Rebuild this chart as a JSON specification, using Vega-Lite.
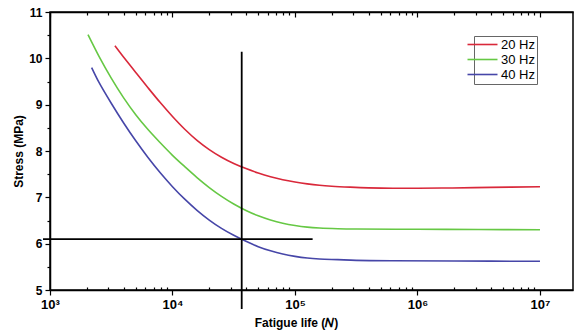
{
  "$schema": "https://vega.github.io/schema/vega-lite/v6.json",
  "autosize": "none",
  "width": 523,
  "height": 278,
  "padding": {"left": 50, "top": 12, "right": 5, "bottom": 41},
  "background": "white",
  "config": {
    "view": {"stroke": "black", "strokeWidth": 1.5},
    "font": "Liberation Sans",
    "axis": {"domainColor": "black", "domainWidth": 1.5, "tickColor": "black", "tickWidth": 1.2, "grid": false, "labelColor": "black", "titleColor": "black"}
  },
  "datasets": {
    "curves": [
      {"N": 3388, "S": 10.27, "f": "20 Hz"},
      {"N": 3981, "S": 10.03, "f": "20 Hz"},
      {"N": 5012, "S": 9.695, "f": "20 Hz"},
      {"N": 6310, "S": 9.365, "f": "20 Hz"},
      {"N": 7943, "S": 9.045, "f": "20 Hz"},
      {"N": 10000, "S": 8.745, "f": "20 Hz"},
      {"N": 12589, "S": 8.47, "f": "20 Hz"},
      {"N": 15849, "S": 8.23, "f": "20 Hz"},
      {"N": 19953, "S": 8.03, "f": "20 Hz"},
      {"N": 25119, "S": 7.865, "f": "20 Hz"},
      {"N": 31623, "S": 7.73, "f": "20 Hz"},
      {"N": 39811, "S": 7.62, "f": "20 Hz"},
      {"N": 50119, "S": 7.525, "f": "20 Hz"},
      {"N": 63096, "S": 7.445, "f": "20 Hz"},
      {"N": 79433, "S": 7.38, "f": "20 Hz"},
      {"N": 100000, "S": 7.33, "f": "20 Hz"},
      {"N": 125893, "S": 7.29, "f": "20 Hz"},
      {"N": 158489, "S": 7.26, "f": "20 Hz"},
      {"N": 199526, "S": 7.24, "f": "20 Hz"},
      {"N": 281838, "S": 7.22, "f": "20 Hz"},
      {"N": 398107, "S": 7.205, "f": "20 Hz"},
      {"N": 630957, "S": 7.195, "f": "20 Hz"},
      {"N": 1584893, "S": 7.20, "f": "20 Hz"},
      {"N": 3981072, "S": 7.215, "f": "20 Hz"},
      {"N": 10000000, "S": 7.23, "f": "20 Hz"},
      {"N": 2042, "S": 10.51, "f": "30 Hz"},
      {"N": 2512, "S": 10.042, "f": "30 Hz"},
      {"N": 3162, "S": 9.572, "f": "30 Hz"},
      {"N": 3981, "S": 9.152, "f": "30 Hz"},
      {"N": 5012, "S": 8.782, "f": "30 Hz"},
      {"N": 6310, "S": 8.462, "f": "30 Hz"},
      {"N": 7943, "S": 8.177, "f": "30 Hz"},
      {"N": 10000, "S": 7.907, "f": "30 Hz"},
      {"N": 12589, "S": 7.662, "f": "30 Hz"},
      {"N": 15849, "S": 7.427, "f": "30 Hz"},
      {"N": 19953, "S": 7.212, "f": "30 Hz"},
      {"N": 25119, "S": 7.022, "f": "30 Hz"},
      {"N": 31623, "S": 6.857, "f": "30 Hz"},
      {"N": 39811, "S": 6.717, "f": "30 Hz"},
      {"N": 50119, "S": 6.602, "f": "30 Hz"},
      {"N": 63096, "S": 6.512, "f": "30 Hz"},
      {"N": 79433, "S": 6.442, "f": "30 Hz"},
      {"N": 100000, "S": 6.392, "f": "30 Hz"},
      {"N": 125893, "S": 6.357, "f": "30 Hz"},
      {"N": 158489, "S": 6.337, "f": "30 Hz"},
      {"N": 223872, "S": 6.322, "f": "30 Hz"},
      {"N": 316228, "S": 6.315, "f": "30 Hz"},
      {"N": 1000000, "S": 6.31, "f": "30 Hz"},
      {"N": 3162278, "S": 6.305, "f": "30 Hz"},
      {"N": 10000000, "S": 6.30, "f": "30 Hz"},
      {"N": 2188, "S": 9.80, "f": "40 Hz"},
      {"N": 2512, "S": 9.48, "f": "40 Hz"},
      {"N": 3162, "S": 9.03, "f": "40 Hz"},
      {"N": 3981, "S": 8.61, "f": "40 Hz"},
      {"N": 5012, "S": 8.22, "f": "40 Hz"},
      {"N": 6310, "S": 7.86, "f": "40 Hz"},
      {"N": 7943, "S": 7.53, "f": "40 Hz"},
      {"N": 10000, "S": 7.23, "f": "40 Hz"},
      {"N": 12589, "S": 6.96, "f": "40 Hz"},
      {"N": 15849, "S": 6.72, "f": "40 Hz"},
      {"N": 19953, "S": 6.51, "f": "40 Hz"},
      {"N": 25119, "S": 6.33, "f": "40 Hz"},
      {"N": 31623, "S": 6.18, "f": "40 Hz"},
      {"N": 39811, "S": 6.05, "f": "40 Hz"},
      {"N": 50119, "S": 5.935, "f": "40 Hz"},
      {"N": 63096, "S": 5.845, "f": "40 Hz"},
      {"N": 79433, "S": 5.775, "f": "40 Hz"},
      {"N": 100000, "S": 5.725, "f": "40 Hz"},
      {"N": 125893, "S": 5.69, "f": "40 Hz"},
      {"N": 158489, "S": 5.67, "f": "40 Hz"},
      {"N": 223872, "S": 5.655, "f": "40 Hz"},
      {"N": 316228, "S": 5.64, "f": "40 Hz"},
      {"N": 630957, "S": 5.63, "f": "40 Hz"},
      {"N": 1995262, "S": 5.625, "f": "40 Hz"},
      {"N": 10000000, "S": 5.62, "f": "40 Hz"}
    ],
    "guides": [
      {"x": 36728, "x2": 36728, "y": 4.59, "y2": 10.14},
      {"x": 877, "x2": 139300, "y": 6.10, "y2": 6.10}
    ]
  },
  "layer": [
    {
      "data": {"name": "curves"},
      "mark": {"type": "line", "interpolate": "catmull-rom", "strokeWidth": 1.6},
      "encoding": {
        "x": {
          "field": "N", "type": "quantitative",
          "scale": {"type": "log", "domain": [1000, 18600000], "nice": false},
          "axis": {
            "orient": "bottom",
            "title": "Fatigue life (𝑁)",
            "titleFont": "Liberation Sans", "titleFontSize": 12, "titleFontWeight": "bold",
            "titleX": 246, "titlePadding": 6,
            "values": [1000,2000,3000,4000,5000,6000,7000,8000,9000,10000,20000,30000,40000,50000,60000,70000,80000,90000,100000,200000,300000,400000,500000,600000,700000,800000,900000,1000000,2000000,3000000,4000000,5000000,6000000,7000000,8000000,9000000,10000000],
            "labelExpr": "abs(log(datum.value)/LN10 - round(log(datum.value)/LN10)) < 0.001 ? '10' + ['⁰','¹','²','³','⁴','⁵','⁶','⁷'][round(log(datum.value)/LN10)] : ''",
            "labelFontSize": 13, "labelFontWeight": "bold", "labelPadding": 3,
            "labelFlush": false, "labelOverlap": false,
            "tickSize": {"condition": {"test": "abs(log(datum.value)/LN10 - round(log(datum.value)/LN10)) < 0.001", "value": 5}, "value": -3}
          }
        },
        "y": {
          "field": "S", "type": "quantitative",
          "scale": {"domain": [5, 11], "nice": false, "zero": false},
          "axis": {
            "title": "Stress (MPa)",
            "titleFontSize": 12, "titleFontWeight": "bold", "titlePadding": 3,
            "values": [5,5.5,6,6.5,7,7.5,8,8.5,9,9.5,10,10.5,11],
            "labelExpr": "datum.value % 1 == 0 ? format(datum.value, 'd') : ''",
            "labelFontSize": 12, "labelFontWeight": "bold", "labelPadding": 3,
            "labelFlush": false, "labelOverlap": false,
            "tickSize": {"condition": {"test": "datum.value % 1 == 0", "value": 5}, "value": 3}
          }
        },
        "color": {
          "field": "f", "type": "nominal",
          "scale": {"domain": ["20 Hz", "30 Hz", "40 Hz"], "range": ["#d9283a", "#66c844", "#4646a8"]},
          "legend": {
            "title": null, "orient": "none", "legendX": 424, "legendY": 24,
            "strokeColor": "#666", "padding": 2, "fillColor": "white",
            "symbolType": "M-3,0H3", "symbolSize": 100, "symbolStrokeWidth": 1.6,
            "labelFontSize": 13, "labelFont": "Liberation Sans", "labelColor": "black",
            "labelOffset": 12, "rowPadding": 1
          }
        }
      }
    },
    {
      "data": {"name": "guides"},
      "mark": {"type": "rule", "color": "black", "strokeWidth": 1.8},
      "encoding": {
        "x": {
          "field": "x", "type": "quantitative",
          "axis": {
            "orient": "top", "title": null, "labels": false, "domain": true,
            "values": [1000,2000,3000,4000,5000,6000,7000,8000,9000,10000,20000,30000,40000,50000,60000,70000,80000,90000,100000,200000,300000,400000,500000,600000,700000,800000,900000,1000000,2000000,3000000,4000000,5000000,6000000,7000000,8000000,9000000,10000000],
            "tickSize": {"condition": {"test": "abs(log(datum.value)/LN10 - round(log(datum.value)/LN10)) < 0.001", "value": -5}, "value": -3}
          }
        },
        "x2": {"field": "x2"},
        "y": {
          "field": "y", "type": "quantitative",
          "axis": {
            "title": "Stress (MPa)",
            "titleFontSize": 12, "titleFontWeight": "bold", "titlePadding": 3,
            "values": [5,5.5,6,6.5,7,7.5,8,8.5,9,9.5,10,10.5,11],
            "labelExpr": "datum.value % 1 == 0 ? format(datum.value, 'd') : ''",
            "labelFontSize": 12, "labelFontWeight": "bold", "labelPadding": 3,
            "labelFlush": false, "labelOverlap": false,
            "tickSize": {"condition": {"test": "datum.value % 1 == 0", "value": 5}, "value": 3}
          }
        },
        "y2": {"field": "y2"}
      }
    }
  ]
}
